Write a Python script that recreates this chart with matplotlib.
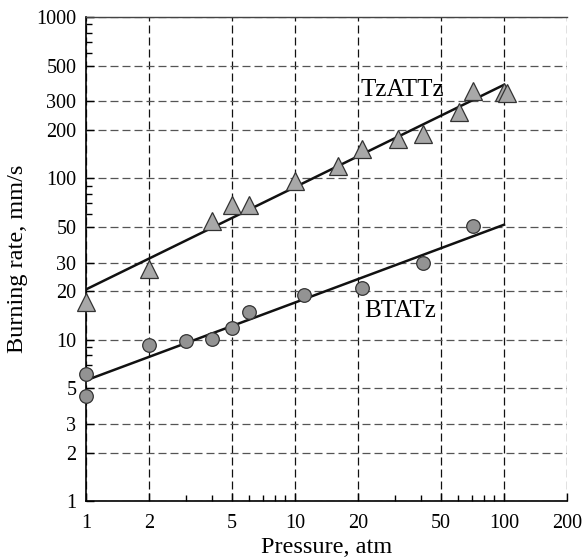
import matplotlib
matplotlib.use("Agg")
import matplotlib.pyplot as plt
from matplotlib.ticker import FixedLocator, NullFormatter

# TzATTz data (triangles)
tz_p = [1, 2, 4, 5, 6, 10, 16, 21, 31, 41, 61, 71, 100, 103]
tz_r = [17.2, 27.4, 54.7, 68.4, 68, 96.8, 119, 152, 176, 188, 259, 348, 345, 340]
# BTATz data (circles)
bt_p = [1, 1, 2, 3, 4, 5, 6, 11, 21, 41, 71]
bt_r = [6.1, 4.48, 9.3, 9.86, 10.05, 11.9, 14.9, 18.9, 20.8, 29.8, 50.7]
# Fit lines
fit_p = [1, 100]
tz_fit = [20.5, 380]
bt_fit = [5.6, 51.6]

x_major = [1, 2, 5, 10, 20, 50, 100, 200]
x_minor = [3, 4, 6, 7, 8, 9, 30, 40, 60, 70, 80, 90]
y_major = [1, 2, 3, 5, 10, 20, 30, 50, 100, 200, 300, 500, 1000]
y_minor = [6, 7, 8, 9, 60, 70, 80, 90, 600, 700, 800, 900]

plt.rcParams['font.family'] = ['Liberation Serif', 'DejaVu Serif']

fig = plt.figure(figsize=(5.85, 5.58), dpi=100)
ax = fig.add_axes([0.147, 0.102, 0.822, 0.8675])
ax.set_xscale('log')
ax.set_yscale('log')
ax.set_xlim(1, 200)
ax.set_ylim(1, 1000)

ax.xaxis.set_major_locator(FixedLocator(x_major))
ax.xaxis.set_minor_locator(FixedLocator(x_minor))
ax.yaxis.set_major_locator(FixedLocator(y_major))
ax.yaxis.set_minor_locator(FixedLocator(y_minor))
ax.set_xticklabels([str(v) for v in x_major])
ax.set_yticklabels([str(v) for v in y_major])
ax.xaxis.set_minor_formatter(NullFormatter())
ax.yaxis.set_minor_formatter(NullFormatter())

ax.tick_params(which='major', direction='in', length=6, width=1, labelsize=14.5)
ax.tick_params(axis='x', which='major', pad=9)
ax.tick_params(axis='y', which='major', pad=7)
ax.tick_params(which='minor', direction='in', length=4, width=1)
ax.spines['right'].set_visible(False)
for s in ['left', 'bottom']:
    ax.spines[s].set_linewidth(1.2)
ax.spines['top'].set_linewidth(1.0)
ax.spines['top'].set_color('#444444')

ax.xaxis.grid(True, which='major', linestyle=(0, (6.4, 3.2)), color='#111111', linewidth=0.9)
ax.yaxis.grid(True, which='major', linestyle=(0, (6.4, 3.2)), color='#555555', linewidth=0.9)

ax.plot(fit_p, tz_fit, color='#111111', linewidth=1.8, zorder=3)
ax.plot(fit_p, bt_fit, color='#111111', linewidth=1.8, zorder=3)
ax.plot(tz_p, tz_r, linestyle='none', marker='^', markersize=12.5,
        markerfacecolor='#a8a8a8', markeredgecolor='#333333', markeredgewidth=0.9,
        zorder=4, clip_on=False)
ax.plot(bt_p, bt_r, linestyle='none', marker='o', markersize=9.8,
        markerfacecolor='#939393', markeredgecolor='#333333', markeredgewidth=0.9,
        zorder=4, clip_on=False)

ax.text(20.5, 355, 'TzATTz', fontsize=18, ha='left', va='center', zorder=5)
ax.text(21.5, 15.0, 'BTATz', fontsize=18, ha='left', va='center', zorder=5)

ax.set_xlabel('Pressure, atm', fontsize=17.5, labelpad=3)
ax.set_ylabel('Burning rate, mm/s', fontsize=17.5, labelpad=6)

fig.savefig('out.png', dpi=100)
